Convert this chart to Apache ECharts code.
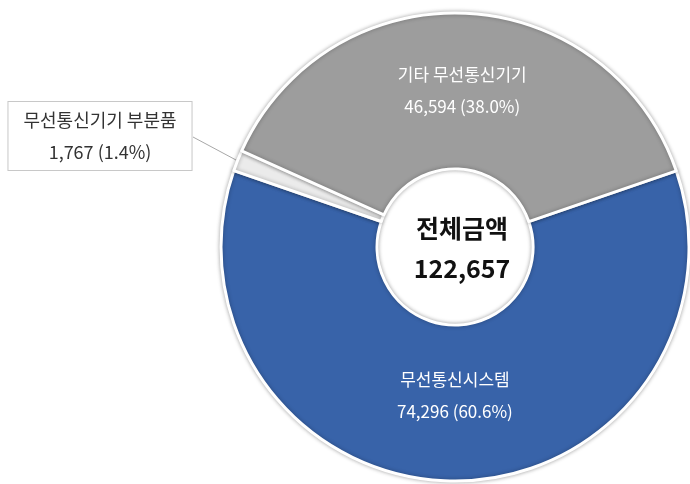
<!DOCTYPE html>
<html>
<head>
<meta charset="utf-8">
<script src="https://cdn.jsdelivr.net/npm/echarts@6/dist/echarts.min.js"></script>
<style>
  html, body { margin: 0; padding: 0; background: #fff; }
  #chart { width: 690px; height: 484px; }
</style>
</head>
<body>
<div id="chart"></div>
<script>
// 항목 이름과 금액
const names = ["무선통신시스템", "무선통신기기 부분품", "기타 무선통신기기"];
const values = [74296, 1767, 46594];
const colors = ["#3863a9", "#ebebeb", "#9d9d9d"];
const centerTitle = "전체금액";

const total = values.reduce((a, b) => a + b, 0);
const fmt = (n) => n.toLocaleString("en-US");

const chart = echarts.init(document.getElementById("chart"));

const seriesData = names.map((name, i) => {
  let item = {
    name: name,
    value: values[i],
    itemStyle: {
      color: colors[i],
    },
  };
  // 작은 조각은 바깥쪽 상자에 라벨 표시
  if (i === 1) {
    item.itemStyle.borderColor = "#fff";
    item.label = {
      position: "outside",
      color: "#333",
      fontSize: 18,
      lineHeight: 32,
      backgroundColor: "#fff",
      borderColor: "#c8c8c8",
      borderWidth: 1,
      padding: [2, 15, 2, 15],
      align: "center",
    };
    item.labelLine = {
      show: true,
      lineStyle: { color: "#a8a8a8", width: 1 },
    };
  }
  return item;
});

const option = {
  backgroundColor: "#fff",
  textStyle: { fontFamily: "Noto Sans CJK KR" },
  title: {
    text: centerTitle + "\n" + fmt(total),
    left: 457,
    top: 243,
    textAlign: "center",
    textVerticalAlign: "middle",
    textStyle: {
      fontFamily: "Noto Sans CJK KR",
      fontSize: 25,
      fontWeight: "bold",
      color: "#111",
      lineHeight: 40,
    },
  },
  series: [
    {
      type: "pie",
      center: [455, 247],
      radius: [78, 234],
      startAngle: 19,
      clockwise: true,
      avoidLabelOverlap: false,
      animation: false,
      itemStyle: {
        borderColor: "#fff",
        borderWidth: 3,
        shadowColor: "rgba(0,0,0,0.3)",
        shadowBlur: 4,
      },
      label: {
        show: true,
        position: "inside",
        color: "#fff",
        fontSize: 17,
        lineHeight: 32,
        fontFamily: "Noto Sans CJK KR",
        formatter: (p) => p.name + "\n" + fmt(p.value) + " (" + p.percent.toFixed(1) + "%)",
      },
      labelLine: { show: false },
      labelLayout: (params) => {
        if (params.dataIndex === 0) return { dy: -10 };
        if (params.dataIndex === 2) return { dy: 2 };
        return {
          x: 100,
          y: 136,
          align: "center",
          verticalAlign: "middle",
          labelLinePoints: [
            [193, 137],
            [236, 160],
            [305, 203],
          ],
        };
      },
      data: seriesData,
    },
  ],
};

chart.setOption(option);
</script>
</body>
</html>
